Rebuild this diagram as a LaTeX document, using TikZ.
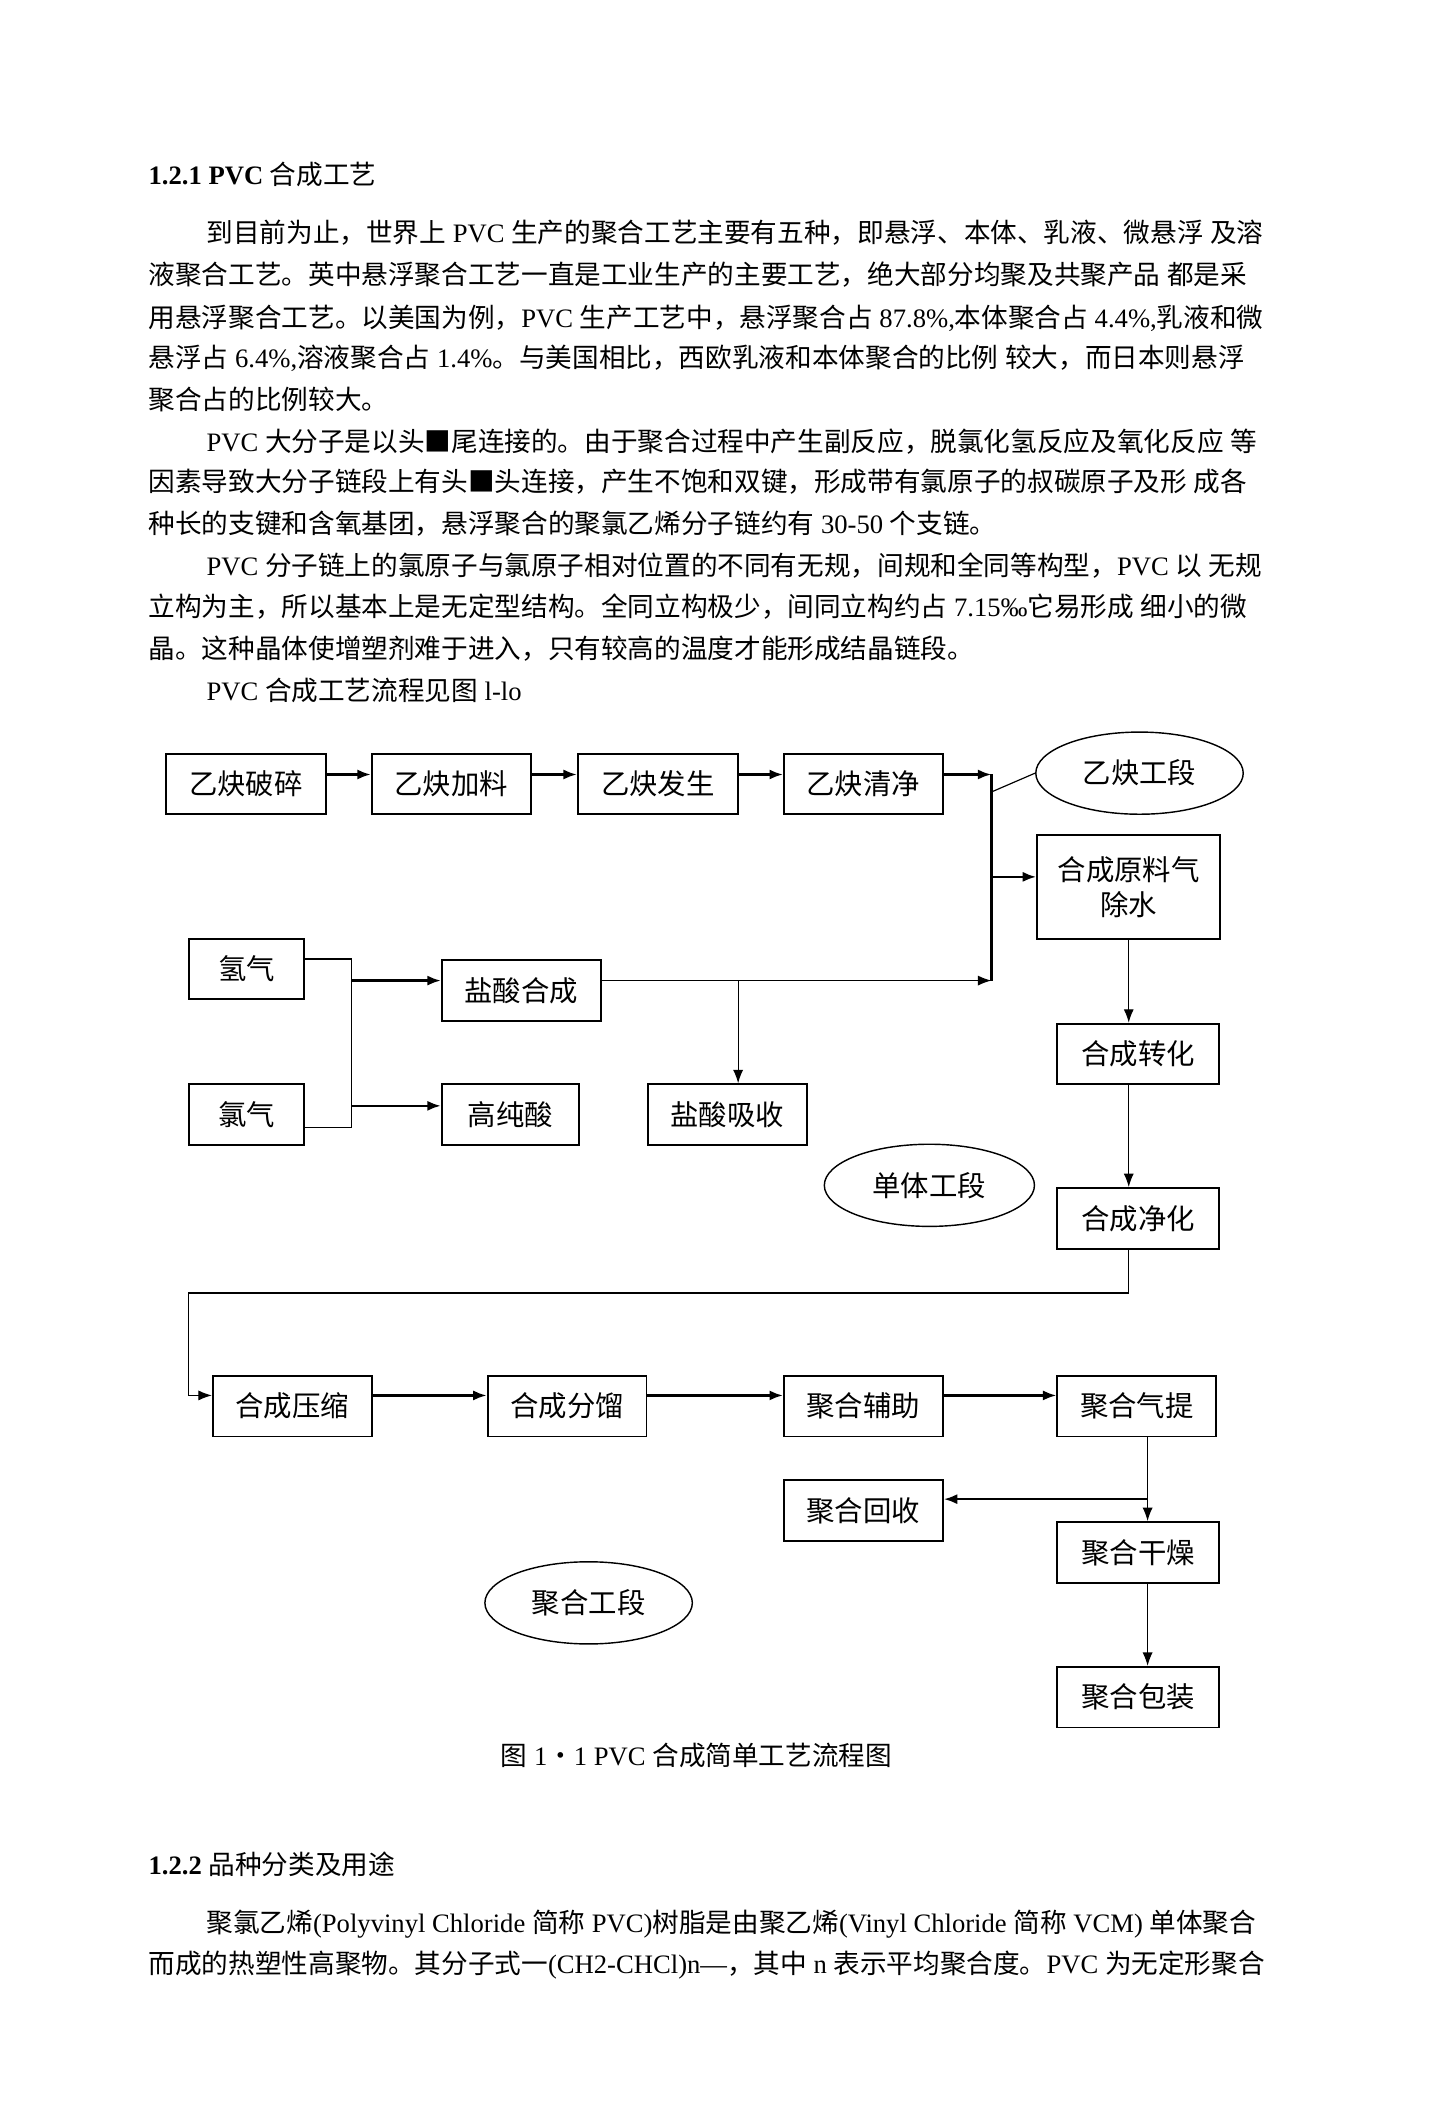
\documentclass[tikz,border=0pt]{standalone}
\usepackage{fontspec}
\setmainfont{Liberation Serif}
\newfontfamily\cjkfont{Noto Sans CJK SC}
\usetikzlibrary{shapes.geometric,arrows.meta}

% ideographs and full-width punctuation are set in the CJK font
\XeTeXinterchartokenstate=1
\newXeTeXintercharclass\cjkcls
\newcount\cjkc
\newcommand\cjkrange[2]{%
  \cjkc=#1\relax
  \loop
    \XeTeXcharclass\cjkc=\cjkcls
    \ifnum\cjkc<#2\relax
    \advance\cjkc by 1
  \repeat}
\cjkrange{"4E00}{"9FFF}
\cjkrange{"3000}{"303F}
\cjkrange{"FF00}{"FFEF}
\cjkrange{"30FB}{"30FB}
\cjkrange{"25A0}{"25A0}
\newcount\clsc
\clsc=0
\loop
  \XeTeXinterchartoks\clsc\cjkcls={\begingroup\cjkfont}%
  \XeTeXinterchartoks\cjkcls\clsc={\endgroup}%
  \ifnum\clsc<\numexpr\cjkcls-1\relax
  \advance\clsc by 1
\repeat
\XeTeXinterchartoks 4095 \cjkcls={\begingroup\cjkfont}
\XeTeXinterchartoks \cjkcls 4095={\endgroup}

\newcommand\bodyfnt{\fontsize{11.25pt}{14pt}\selectfont}
\newcommand\boxfnt{\fontsize{12pt}{15pt}\selectfont}

\begin{document}
\begin{tikzpicture}[x=0.2mm,y=-0.2mm,>={Latex[length=2mm,width=1.5mm]},
    box/.style={draw,line width=0.8pt,inner sep=1pt,minimum height=9mm,font=\boxfnt},
    stage/.style={ellipse,draw,line width=0.6pt,inner sep=0pt,minimum width=30.8mm,minimum height=12.2mm,font=\boxfnt},
    txt/.style={anchor=base west,inner sep=0pt,font=\bodyfnt},
    flow/.style={->,line width=1pt},
    link/.style={->,line width=0.5pt}]

  \fill[white] (0,0) rectangle (1063,1568);
  \useasboundingbox (0,0) rectangle (1063,1568);

  % text above the chart
  \node[txt] (h1) at (110,137) {{\bfseries 1.2.1 PVC} 合成工艺};
  \node[txt] (p1a) at (153,180) {到目前为止，世界上 PVC 生产的聚合工艺主要有五种，即悬浮、本体、乳液、微悬浮 及溶};
  \node[txt] (p1b) at (110,211) {液聚合工艺。英中悬浮聚合工艺一直是工业生产的主要工艺，绝大部分均聚及共聚产品 都是采};
  \node[txt] (p1c) at (110,243) {用悬浮聚合工艺。以美国为例，PVC 生产工艺中，悬浮聚合占 87.8\%,本体聚合占 4.4\%,乳液和微};
  \node[txt] (p1d) at (110,273) {悬浮占 6.4\%,溶液聚合占 1.4\%。与美国相比，西欧乳液和本体聚合的比例 较大，而日本则悬浮};
  \node[txt] (p1e) at (110,304) {聚合占的比例较大。};
  \node[txt] (p2a) at (153,335) {PVC 大分子是以头■尾连接的。由于聚合过程中产生副反应，脱氯化氢反应及氧化反应 等};
  \node[txt] (p2b) at (110,365) {因素导致大分子链段上有头■头连接，产生不饱和双键，形成带有氯原子的叔碳原子及形 成各};
  \node[txt] (p2c) at (110,396) {种长的支键和含氧基团，悬浮聚合的聚氯乙烯分子链约有 30-50 个支链。};
  \node[txt] (p3a) at (153,427) {PVC 分子链上的氯原子与氯原子相对位置的不同有无规，间规和全同等构型，PVC 以 无规};
  \node[txt] (p3b) at (110,458) {立构为主，所以基本上是无定型结构。全同立构极少，间同立构约占 7.15‰它易形成 细小的微};
  \node[txt] (p3c) at (110,489) {晶。这种晶体使增塑剂难于进入，只有较高的温度才能形成结晶链段。};
  \node[txt] (p4) at (153,520) {PVC 合成工艺流程见图 l-lo};

  % acetylene section
  \node[box,minimum width=23.8mm] (c1) at (182.5,582) {乙炔破碎};
  \node[box,minimum width=23.6mm] (c2) at (335,582) {乙炔加料};
  \node[box,minimum width=23.8mm] (c3) at (488.5,582) {乙炔发生};
  \node[box,minimum width=23.6mm] (c4) at (641,582) {乙炔清净};
  \node[stage] (st1) at (846,574) {乙炔工段};

  % monomer section
  \node[box,minimum width=27.2mm,minimum height=15.4mm,align=center] (dry) at (838,658.5) {合成原料气\\除水};
  \node[box,minimum width=17.2mm] (h2) at (183,719.5) {氢气};
  \node[box,minimum width=17.2mm] (cl2) at (183,827.5) {氯气};
  \node[box,minimum width=23.6mm] (hcl) at (387,735.5) {盐酸合成};
  \node[box,minimum width=20.4mm] (hp) at (379,827.5) {高纯酸};
  \node[box,minimum width=23.6mm] (abs) at (540,827.5) {盐酸吸收};
  \node[box,minimum width=24mm] (conv) at (845,782.5) {合成转化};
  \node[box,minimum width=24mm] (pur) at (845,904.5) {合成净化};
  \node[stage,minimum width=31.2mm] (st2) at (690,880) {单体工段};

  % polymerisation section
  \node[box,minimum width=23.6mm] (cmp) at (217,1044) {合成压缩};
  \node[box,minimum width=23.6mm] (frc) at (421,1044) {合成分馏};
  \node[box,minimum width=23.6mm] (aux) at (641,1044) {聚合辅助};
  \node[box,minimum width=23.6mm] (strp) at (844,1044) {聚合气提};
  \node[box,minimum width=23.6mm] (rec) at (641,1121.5) {聚合回收};
  \node[box,minimum width=24mm] (dryr) at (845,1152.5) {聚合干燥};
  \node[box,minimum width=24mm] (pack) at (845,1260) {聚合包装};
  \node[stage] (st3) at (437,1190) {聚合工段};

  \coordinate (bt) at (736,575);
  \coordinate (bd) at (736,651);
  \coordinate (bb) at (736,728);
  \coordinate (bs) at (736,588);
  \coordinate (ab) at (548,728);
  \coordinate (j1) at (261,712);
  \coordinate (j2) at (261,837);
  \coordinate (r1) at (140,960);
  \coordinate (q1) at (852,1113);

  % acetylene line
  \draw[flow] ([yshift=1.4mm]c1.east) -- ([yshift=1.4mm]c2.west);
  \draw[flow] ([yshift=1.4mm]c2.east) -- ([yshift=1.4mm]c3.west);
  \draw[flow] ([yshift=1.4mm]c3.east) -- ([yshift=1.4mm]c4.west);
  \draw[flow] (bt -| c4.east) -- (bt);
  \draw[line width=1pt] (bt) -- (bb);
  \draw[line width=0.5pt] (st1.west) -- (bs);
  \draw[flow] (bd) -- (bd -| dry.west);

  % hydrogen chloride
  \draw[line width=0.5pt] (j1 -| h2.east) -- (j1) -- (j2) -- (j2 -| cl2.east);
  \draw[flow] (j1 |- bb) -- (bb -| hcl.west);
  \draw[flow] (j1 |- 0,821) -- (hp.west |- 0,821);
  \draw[link] (bb -| hcl.east) -- (bb);
  \draw[link] (ab) -- (ab |- abs.north);

  % monomer line
  \draw[link] (dry.south) -- (dry.south |- conv.north);
  \draw[link] (dry.south |- conv.south) -- (dry.south |- pur.north);
  \draw[link] (dry.south |- pur.south) |- (r1) |- ([yshift=1.6mm]cmp.west);

  % polymerisation line
  \draw[flow] ([yshift=1.6mm]cmp.east) -- ([yshift=1.6mm]frc.west);
  \draw[flow] ([yshift=1.6mm]frc.east) -- ([yshift=1.6mm]aux.west);
  \draw[flow] ([yshift=1.6mm]aux.east) -- ([yshift=1.6mm]strp.west);
  \draw[link] (q1 |- strp.south) -- (q1 |- dryr.north);
  \draw[flow] (q1) -- (q1 -| rec.east);
  \draw[link] (q1 |- dryr.south) -- (q1 |- pack.north);

  % text below the chart
  \node[font=\bodyfnt] (cap) at (517,1303) {图 1・1 PVC 合成简单工艺流程图};
  \node[txt] (h2t) at (110,1392) {{\bfseries 1.2.2} 品种分类及用途};
  \node[txt] (p5a) at (153,1435) {聚氯乙烯(Polyvinyl Chloride 简称 PVC)树脂是由聚乙烯(Vinyl Chloride 简称 VCM) 单体聚合};
  \node[txt] (p5b) at (110,1465) {而成的热塑性高聚物。其分子式一(CH2-CHCl)n—，其中 n 表示平均聚合度。PVC 为无定形聚合};

\end{tikzpicture}
\end{document}
